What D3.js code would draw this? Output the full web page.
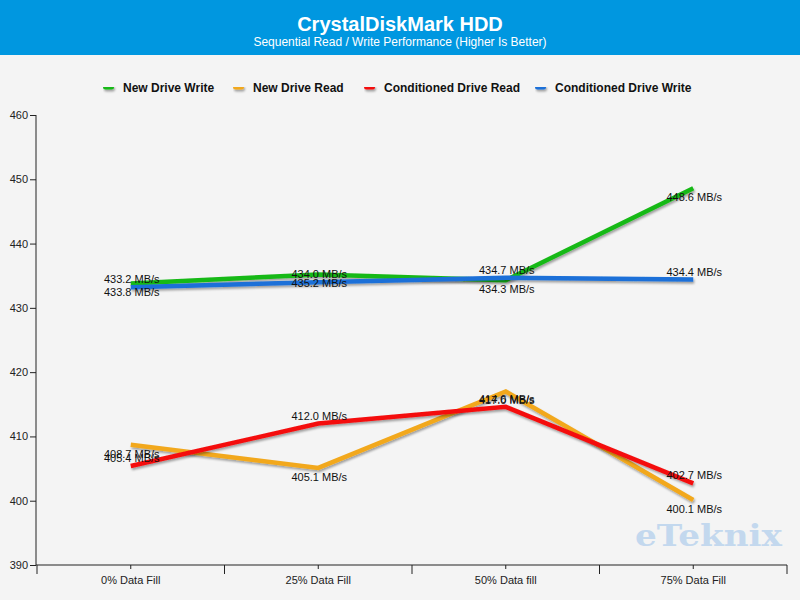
<!DOCTYPE html>
<html><head><meta charset="utf-8">
<script src="https://cdn.jsdelivr.net/npm/d3@7"></script>
<style>
body{margin:0;background:#f4f4f4;}
svg{display:block;}
text{font-family:Tahoma,"Liberation Sans",Arial,sans-serif;}
</style></head>
<body><svg id="c" width="800" height="600"></svg>
<script>
const categories = ["0% Data Fill","25% Data Fill","50% Data fill","75% Data Fill"];
const seriesNames = ["New Drive Write","New Drive Read","Conditioned Drive Read","Conditioned Drive Write"];
const seriesColors = ["#19b919","#f2a81c","#f40f0f","#1a6fd8"];
const newWrite = [433.8, 435.2, 434.3, 448.6];
const newRead = [408.7, 405.1, 417.0, 400.1];
const condRead = [405.4, 412.0, 414.6, 402.7];
const condWrite = [433.2, 434.0, 434.7, 434.4];
const yTicks = [390,400,410,420,430,440,450,460];
const labelBelow = [true, true, false, false];

const seriesValues = [newWrite, newRead, condRead, condWrite];
const W = 800, H = 600;
const svg = d3.select("#c");

svg.append("rect").attr("width",W).attr("height",H).attr("fill","#f4f4f4");
svg.append("rect").attr("width",W).attr("height",55).attr("fill","#0097e0");
svg.append("text").attr("x",400).attr("y",31).attr("text-anchor","middle")
  .attr("fill","#fff").attr("font-size",20).attr("font-weight","bold").text("CrystalDiskMark HDD");
svg.append("text").attr("x",400).attr("y",46).attr("text-anchor","middle")
  .attr("fill","#fff").attr("font-size",12).text("Sequential Read / Write Performance (Higher Is Better)");

const defs = svg.append("defs");
const f = defs.append("filter").attr("id","sh").attr("filterUnits","userSpaceOnUse")
  .attr("x",0).attr("y",0).attr("width",W).attr("height",H);
f.append("feDropShadow").attr("dx",1).attr("dy",2).attr("stdDeviation",1.2).attr("flood-color","#000").attr("flood-opacity",0.35);

// legend
const legendX = [103, 233, 364, 535];
const lg = svg.append("g");
seriesNames.forEach((n,i)=>{
  const g = lg.append("g").attr("transform",`translate(${legendX[i]},87)`);
  g.append("rect").attr("x",0).attr("y",-2.5).attr("width",11).attr("height",5).attr("rx",2.5)
    .attr("fill",seriesColors[i]).attr("filter","url(#sh)");
  g.append("text").attr("x",20).attr("y",4.5).attr("font-size",12).attr("font-weight","bold").attr("fill","#111").text(n);
});

const x = d3.scalePoint().domain(categories).range([37,787]).padding(0.5);
const y = d3.scaleLinear().domain([390,460]).range([565,115]);

// y axis
const ya = svg.append("g").attr("transform","translate(36,0)")
  .call(d3.axisLeft(y).tickValues(yTicks).tickSize(6).tickPadding(2).tickFormat(d3.format("d")));
ya.select(".domain").attr("stroke","#222").attr("d","M0,115V565");
ya.selectAll(".tick line").attr("stroke","#222");
ya.selectAll("text").attr("font-size",11).attr("fill","#222");

// x axis
const xa = svg.append("g").attr("transform","translate(0,565)");
xa.append("line").attr("x1",36).attr("x2",787).attr("stroke","#222");
const step = x.step();
const bounds = d3.range(categories.length+1).map(i=>x(categories[0]) - step/2 + i*step);
xa.selectAll(".b").data(bounds).join("line").attr("x1",d=>d).attr("x2",d=>d).attr("y1",0).attr("y2",9).attr("stroke","#222");
xa.selectAll(".c").data(categories).join("line").attr("x1",d=>x(d)).attr("x2",d=>x(d)).attr("y1",0).attr("y2",4).attr("stroke","#222");
xa.selectAll(".t").data(categories).join("text").attr("x",d=>x(d)).attr("y",19).attr("text-anchor","middle")
  .attr("font-size",11).attr("fill","#222").text(d=>d);

// watermark
svg.append("text").attr("x",635).attr("y",546).style("font-family",'"DejaVu Serif","Liberation Serif",serif')
  .attr("font-weight","bold").attr("font-size",30).attr("fill","#c3d8ee")
  .attr("textLength",147).attr("lengthAdjust","spacingAndGlyphs").text("eTeknix");

// lines
const line = d3.line().x((d,i)=>x(categories[i])).y(d=>y(d));
seriesValues.forEach((vals,si)=>{
  svg.append("path").datum(vals).attr("d",line).attr("fill","none")
    .attr("stroke",seriesColors[si]).attr("stroke-width",4.5).attr("stroke-linejoin","miter")
    .attr("filter","url(#sh)");
});
// labels
seriesValues.forEach((vals,si)=>{
  svg.append("g").selectAll("text").data(vals).join("text")
    .attr("x",(d,i)=>x(categories[i])+1)
    .attr("y",d=>labelBelow[si] ? y(d)+13 : y(d)-4)
    .attr("text-anchor","middle").attr("font-size",11).attr("fill","#111")
    .text(d=>d.toFixed(1)+" MB/s");
});
</script></body></html>
